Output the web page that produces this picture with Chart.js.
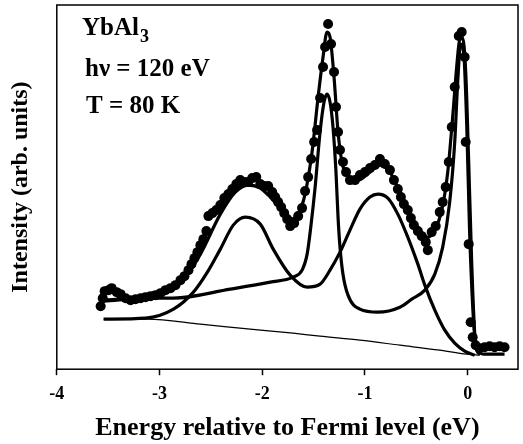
<!DOCTYPE html>
<html>
<head>
<meta charset="utf-8" />
<title>YbAl3 photoemission</title>
<script src="https://cdn.jsdelivr.net/npm/chart.js"></script>
<style>
    html, body { margin: 0; padding: 0; background: #fff; }
    #wrap { width: 523px; height: 444px; }
</style>
</head>
<body>
<div id="wrap"><canvas id="spectrum"></canvas></div>
<script>
// measured points (energy in eV, intensity in arb. units)
const dataE = [-3.573,-3.553,-3.534,-3.495,-3.466,-3.417,-3.379,-3.330,-3.282,-3.233,-3.184,-3.136,-3.087,-3.039,-2.990,-2.942,-2.893,-2.845,-2.796,-2.757,-2.718,-2.689,-2.660,-2.631,-2.602,-2.573,-2.544,-2.524,-2.485,-2.447,-2.408,-2.369,-2.330,-2.291,-2.252,-2.214,-2.175,-2.136,-2.097,-2.058,-2.019,-1.981,-1.942,-1.903,-1.874,-1.845,-1.816,-1.786,-1.757,-1.728,-1.689,-1.650,-1.612,-1.583,-1.553,-1.524,-1.495,-1.466,-1.437,-1.408,-1.388,-1.359,-1.330,-1.301,-1.282,-1.262,-1.243,-1.214,-1.184,-1.146,-1.097,-1.049,-1.000,-0.951,-0.903,-0.854,-0.806,-0.757,-0.718,-0.680,-0.650,-0.621,-0.583,-0.553,-0.524,-0.485,-0.447,-0.408,-0.388,-0.350,-0.311,-0.272,-0.243,-0.214,-0.184,-0.155,-0.126,-0.087,-0.058,-0.029,-0.019,0.010,0.029,0.049,0.078,0.117,0.165,0.214,0.262,0.311,0.359];
const dataI = [63,71,78,79,81,77,75,71,69,70,71,72,73,74,76,79,81,84,89,93,99,105,111,117,124,130,138,153,156,159,164,171,175,180,185,189,187,187,191,192,185,183,183,177,172,167,162,156,150,143,146,153,161,178,192,210,227,239,271,302,322,345,325,297,262,237,219,207,197,189,189,194,197,201,204,210,205,199,189,180,172,165,159,151,144,138,133,127,119,137,143,157,167,182,207,242,282,333,337,312,227,125,47,32,24,21,22,23,22,23,22];

// total fit
const fitE = [-3.544,-3.282,-2.990,-2.796,-2.602,-2.408,-2.262,-2.136,-2.019,-1.922,-1.825,-1.728,-1.650,-1.583,-1.515,-1.456,-1.408,-1.369,-1.340,-1.301,-1.262,-1.223,-1.165,-1.068,-0.951,-0.854,-0.757,-0.660,-0.563,-0.466,-0.388,-0.320,-0.252,-0.194,-0.146,-0.107,-0.078,-0.049,-0.019,0.010,0.039,0.068,0.097,0.165,0.359];
const fitI = [69,71,75,86,115,155,177,184,181,172,161,150,155,175,217,272,312,337,332,292,237,207,192,189,197,204,197,177,155,139,132,139,159,197,252,302,329,331,297,207,107,37,19,15,15];

// bulk component (sharp peaks near 0 and -1.35 eV)
const bulkE = [-3.544,-3.087,-2.864,-2.311,-1.922,-1.699,-1.612,-1.563,-1.524,-1.485,-1.437,-1.398,-1.369,-1.340,-1.311,-1.282,-1.262,-1.243,-1.214,-1.165,-1.049,-0.874,-0.660,-0.544,-0.417,-0.320,-0.243,-0.175,-0.126,-0.097,-0.068,-0.039,-0.010,0.019,0.058,0.087,0.126];
const bulkI = [68,71,71,80,87,92,99,115,145,182,237,267,275,267,242,197,152,122,95,74,60,57,62,70,79,95,122,167,227,287,325,317,247,137,47,19,15];

// surface component (broad peaks near -0.9 and -2.15 eV)
const surfE = [-3.544,-3.136,-2.864,-2.670,-2.534,-2.408,-2.282,-2.165,-2.019,-1.893,-1.728,-1.563,-1.437,-1.340,-1.243,-1.146,-1.049,-0.951,-0.874,-0.777,-0.680,-0.583,-0.485,-0.417,-0.320,-0.223,-0.126,-0.029,0.068];
const surfI = [50,51,60,77,97,120,144,152,145,120,94,82,85,99,117,139,160,172,175,171,155,132,105,84,59,39,26,18,14];

// background
const bgE = [-3.544,-3.117,-2.602,-2.117,-1.699,-1.437,-1.049,-0.660,-0.272,-0.010,0.117];
const bgI = [50,50,45,40,36,33,29,24,19,15,14];

const xTicks = [-4, -3, -2, -1, 0];
const notes = ['YbAl', 'hν = 120 eV', 'T = 80 K'];

function pts(xs, ys) {
    return xs.map((x, i) => ({ x: x, y: ys[i] }));
}

const serif = 'Liberation Serif, Times New Roman, serif';

function lineSet(xs, ys, w) {
    return {
        data: pts(xs, ys),
        showLine: true,
        borderColor: '#000',
        borderWidth: w,
        pointRadius: 0,
        cubicInterpolationMode: 'monotone',
        fill: false
    };
}

// frame + labels in the top-left corner
const decor = {
    id: 'decor',
    afterDraw(chart) {
        const ctx = chart.ctx;
        const a = chart.chartArea;
        ctx.save();
        ctx.strokeStyle = '#000';
        ctx.lineWidth = 1.5;
        ctx.strokeRect(a.left, a.top, a.right - a.left, a.bottom - a.top);
        ctx.fillStyle = '#000';
        ctx.textBaseline = 'alphabetic';
        ctx.font = 'bold 25px ' + serif;
        ctx.fillText(notes[0], 82, 35);
        const w = ctx.measureText(notes[0]).width;
        ctx.font = 'bold 18px ' + serif;
        ctx.fillText('3', 82 + w + 1, 42);
        ctx.font = 'bold 25px ' + serif;
        ctx.fillText(notes[1], 85, 76);
        ctx.fillText(notes[2], 86, 113);
        ctx.restore();
    }
};

new Chart(document.getElementById('spectrum'), {
    type: 'scatter',
    data: {
        datasets: [
            lineSet(bgE, bgI, 1.2),
            lineSet(surfE, surfI, 3.2),
            lineSet(bulkE, bulkI, 3.2),
            lineSet(fitE, fitI, 3.2),
            {
                data: pts(dataE, dataI),
                pointRadius: 5,
                pointBackgroundColor: '#000',
                pointBorderWidth: 0,
                showLine: false
            }
        ]
    },
    options: {
        responsive: true,
        maintainAspectRatio: false,
        animation: false,
        layout: { padding: { left: 0, right: 5, top: 2, bottom: 0 } },
        plugins: { legend: { display: false }, tooltip: { enabled: false } },
        scales: {
            x: {
                type: 'linear',
                min: -4,
                max: 0.49,
                afterBuildTicks: (s) => { s.ticks = xTicks.map(v => ({ value: v })); },
                grid: { drawOnChartArea: false, tickLength: 6, tickColor: '#000', tickWidth: 1.5 },
                border: { display: false },
                ticks: {
                    color: '#000',
                    padding: 8,
                    font: { family: serif, size: 18, weight: 'bold' }
                },
                title: {
                    display: true,
                    text: 'Energy relative to Fermi level (eV)',
                    color: '#000',
                    padding: { top: 0, bottom: 0 },
                    font: { family: serif, size: 26, weight: 'bold' }
                }
            },
            y: {
                min: 0,
                max: 364,
                grid: { display: false },
                border: { display: false },
                ticks: { display: false },
                title: {
                    display: true,
                    text: 'Intensity (arb. units)',
                    color: '#000',
                    padding: { top: 6, bottom: 14 },
                    font: { family: serif, size: 24, weight: 'bold' }
                }
            }
        }
    },
    plugins: [decor]
});
</script>
</body>
</html>
